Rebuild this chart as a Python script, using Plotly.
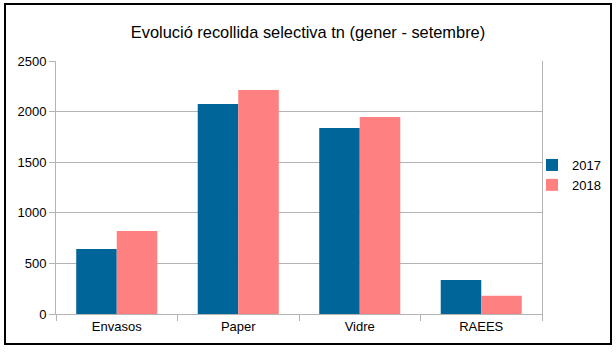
import plotly.graph_objects as go

categories = ["Envasos", "Paper", "Vidre", "RAEES"]
values_2017 = [642, 2075, 1838, 336]
values_2018 = [820, 2213, 1947, 180]
series_names = ["2017", "2018"]
y_ticks = [0, 500, 1000, 1500, 2000, 2500]

W, H = 616, 356
L, R, T, B = 56, 74, 61, 42
pw, ph = W - L - R, H - T - B

def px_x(p):
    return (p - L) / pw

def px_y(p):
    return (H - B - p) / ph

fig = go.Figure()
fig.add_trace(go.Bar(x=categories, y=values_2017, name=series_names[0],
                     marker=dict(color="#006699", line=dict(width=0))))
fig.add_trace(go.Bar(x=categories, y=values_2018, name=series_names[1],
                     marker=dict(color="#ff8080", line=dict(width=0))))

font = "Liberation Sans, Arial, sans-serif"
fig.update_layout(
    width=W, height=H,
    margin=dict(l=L, r=R, t=T, b=B, autoexpand=False),
    paper_bgcolor="white", plot_bgcolor="white",
    barmode="group", bargap=0.333, bargroupgap=0,
    font=dict(family=font, size=13, color="black"),
    title=dict(text="Evolució recollida selectiva tn (gener - setembre)",
               x=308 / W, xanchor="center", y=1 - 32 / H, yanchor="middle",
               font=dict(family=font, size=16.4, color="black")),
    legend=dict(x=px_x(532), xanchor="left", y=px_y(175), yanchor="middle",
                font=dict(family=font, size=13, color="black"),
                bgcolor="rgba(0,0,0,0)", itemwidth=30, tracegroupgap=0),
    showlegend=True,
    xaxis=dict(type="category", showline=True, linecolor="#b3b3b3", linewidth=1,
               ticks="outside", tickson="boundaries", ticklen=6, tickcolor="#b3b3b3",
               showgrid=False, mirror=False, tickfont=dict(family=font, size=13, color="black")),
    yaxis=dict(range=[0, 2500], tickvals=y_ticks, showline=True, linecolor="#b3b3b3",
               linewidth=1, mirror=True, ticks="outside", ticklen=6, tickcolor="#b3b3b3",
               showgrid=True, gridcolor="#b3b3b3", gridwidth=1, zeroline=False,
               tickfont=dict(family=font, size=13, color="black")),
    shapes=[dict(type="rect", xref="paper", yref="paper",
                 x0=px_x(5), x1=px_x(611), y0=px_y(344), y1=px_y(4),
                 line=dict(color="black", width=2), fillcolor="rgba(0,0,0,0)", layer="above")],
)

fig.write_html("out.html", config={"displayModeBar": False},
               post_script="document.body.style.margin='0';document.body.style.padding='0';")
